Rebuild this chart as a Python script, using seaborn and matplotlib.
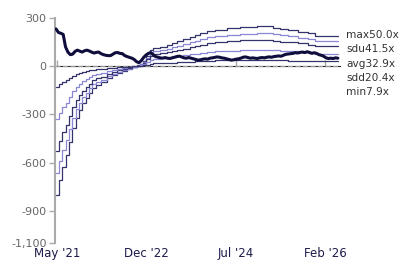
import numpy as np
import pandas as pd
import matplotlib
matplotlib.use("Agg")
import matplotlib.pyplot as plt
import matplotlib.dates as mdates
from matplotlib.ticker import FixedLocator, FuncFormatter
import seaborn as sns

# ---------------- data ----------------
price = [232, 210, 205, 198, 120, 88, 72, 75, 92, 100, 94, 88, 96, 100, 95, 88,
         82, 86, 88, 78, 72, 68, 66, 66, 75, 84, 85, 80, 78, 66, 60, 55,
         50, 42, 28, 22, 35, 55, 70, 80, 85, 72, 60, 56, 52, 50, 54, 50,
         48, 52, 56, 60, 63, 58, 52, 50, 54, 50, 46, 42, 38, 40, 44, 46,
         44, 50, 52, 55, 58, 56, 52, 50, 46, 42, 38, 40, 44, 46, 50, 56,
         58, 54, 50, 52, 50, 48, 52, 54, 52, 56, 58, 56, 60, 62, 64, 62,
         68, 74, 76, 78, 80, 84, 82, 86, 88, 85, 90, 86, 80, 84, 80, 72,
         68, 62, 52, 48, 50, 48, 52, 50]
price_start = "2021-04-25"
price_end = "2026-04-25"

eps_dates = ["2021-04-23", "2021-05-14", "2021-06-03", "2021-06-28", "2021-07-18",
             "2021-08-07", "2021-09-02", "2021-09-21", "2021-10-10", "2021-11-06",
             "2021-11-25", "2021-12-15", "2022-01-10", "2022-02-11", "2022-03-20",
             "2022-04-21", "2022-05-24", "2022-06-25", "2022-07-28", "2022-08-30",
             "2022-10-01", "2022-10-20", "2022-11-10", "2022-11-29", "2022-12-25",
             "2023-01-14", "2023-02-28", "2023-04-13", "2023-05-15", "2023-06-17",
             "2023-07-26", "2023-09-10", "2023-10-12", "2023-11-14", "2023-12-29",
             "2024-02-20", "2024-05-06", "2024-07-30", "2024-11-18", "2024-12-26",
             "2025-01-28", "2025-03-01", "2025-04-15", "2025-06-05", "2025-08-09",
             "2025-10-13", "2025-11-28", "2026-02-01", "2026-04-25"]
eps = [-16.0, -14.2, -12.5, -11.1, -9.4, -7.7, -6.4, -5.5, -4.6, -4.0,
       -3.3, -2.7, -2.3, -2.0, -1.5, -1.1, -0.8, -0.55, -0.35, -0.15,
       0.1, 0.3, 0.6, 1.3, 2.0, 2.3, 2.45, 2.6, 2.85, 3.1,
       3.35, 3.6, 3.85, 4.1, 4.4, 4.55, 4.75, 4.9, 5.0, 5.05,
       4.95, 4.8, 4.65, 4.5, 4.3, 4.1, 3.8, 3.75, 3.75]

band_names = ["max", "sdu", "avg", "sdd", "min"]
band_multiples = [50.0, 41.5, 32.9, 20.4, 7.9]

y_ticks = [300, 0, -300, -600, -900, -1100]
x_tick_dates = ["2021-05-01", "2022-12-01", "2024-07-01", "2026-02-01"]
x_tick_labels = ["May '21", "Dec '22", "Jul '24", "Feb '26"]

# ---------------- frames ----------------
price_df = pd.DataFrame({
    "date": pd.date_range(price_start, price_end, periods=len(price)),
    "value": price,
})
eps_d = pd.to_datetime(eps_dates)
band_dfs = []
for name, mult in zip(band_names, band_multiples):
    band_dfs.append(pd.DataFrame({"date": eps_d, "value": np.array(eps) * mult}))

# ---------------- plot ----------------
sns.set_style("white")
plt.rcParams["font.family"] = ["DejaVu Sans"]

fig = plt.figure(figsize=(4.07, 2.64), dpi=100)
ax = fig.add_axes([0.1351, 0.0795, 0.700, 0.8523])

dark = "#34336b"
light = "#8a87d4"
band_colors = [dark, light, dark, light, dark]

ax.axhline(0, color="#999999", lw=0.9, ls=(0, (4, 2)), zorder=1)

for df, col in zip(band_dfs, band_colors):
    sns.lineplot(data=df, x="date", y="value", ax=ax, color=col, lw=0.9,
                 drawstyle="steps-post", zorder=2)

sns.lineplot(data=price_df, x="date", y="value", ax=ax, color="#0e0d3b", lw=2.2,
             solid_joinstyle="round", solid_capstyle="round", zorder=3)

ax.set_ylim(-1100, 300)
ax.set_xlim(pd.Timestamp("2021-04-18"), pd.Timestamp("2026-05-08"))
ax.set_xlabel("")
ax.set_ylabel("")

ax.yaxis.set_major_locator(FixedLocator(y_ticks))
ax.yaxis.set_major_formatter(FuncFormatter(lambda v, p: f"{v:,.0f}"))
ax.tick_params(axis="y", length=4, width=1, color="#aaaaaa", labelcolor="#666666",
               labelsize=8, pad=2, left=True)

ax.set_xticks(pd.to_datetime(x_tick_dates))
ax.set_xticklabels(x_tick_labels)
ax.tick_params(axis="x", length=0, labelcolor="#1c1b4a", labelsize=8.5, pad=3)

for s in ["top", "right", "bottom"]:
    ax.spines[s].set_visible(False)
ax.spines["left"].set_color("#aaaaaa")
ax.spines["left"].set_linewidth(1.5)

# tick marks on the zero line
zero_frac = (0 - (-1100)) / (300 - (-1100))
sec = ax.secondary_xaxis(zero_frac)
sec.set_xticks(mdates.date2num(pd.to_datetime(x_tick_dates)))
sec.set_xticklabels([])
sec.tick_params(axis="x", length=4, width=1, color="#aaaaaa", direction="out")
sec.spines["bottom"].set_visible(False)

# right side labels
label_texts = [f"{n}{m:.1f}x" for n, m in zip(band_names, band_multiples)]
y0 = 1 - 35 / 264
for i, t in enumerate(label_texts):
    fig.text(346 / 407, y0 - i * (14.3 / 264), t, fontsize=7.6, color="#333333",
             va="center", ha="left")

fig.savefig("out.png", dpi=100)
